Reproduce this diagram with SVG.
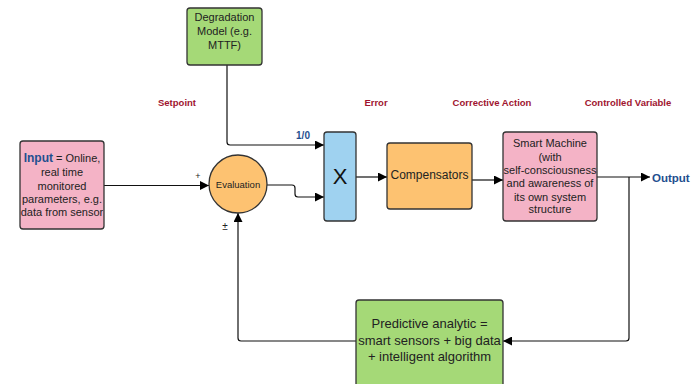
<svg xmlns="http://www.w3.org/2000/svg" width="697" height="384" viewBox="0 0 697 384">
<defs>
<marker id="arr" viewBox="0 0 10 10" refX="10" refY="5" markerWidth="9" markerHeight="9" markerUnits="userSpaceOnUse" orient="auto"><path d="M0,0 L10,5 L0,10 z" fill="#000"/></marker>
<style>
.box{stroke:#333;stroke-width:1.3}
.t{font-family:"Liberation Sans",Arial,sans-serif;font-size:11px;fill:#222;text-anchor:middle}
.lab{font-family:"Liberation Sans",Arial,sans-serif;font-size:9.5px;font-weight:bold;fill:#a01530;text-anchor:middle}
.blue{fill:#1f4f8f;font-weight:bold}
.c{fill:none;stroke:#111;stroke-width:1.2;marker-end:url(#arr)}
</style>
</defs>
<rect width="697" height="384" fill="#fff"/>
<g id="labels">
<text class="lab" x="177" y="106">Setpoint</text>
<text class="lab" x="376" y="106">Error</text>
<text class="lab" x="492" y="106">Corrective Action</text>
<text class="lab" x="628" y="106">Controlled Variable</text>
</g>
<g id="connectors">
<path class="c" d="M104,185.5 H209"/>
<path class="c" d="M267,185 H292 Q295,185 295,188 V194 Q295,197 298,197 H324"/>
<path class="c" d="M227,65 V142 Q227,145 230,145 H324"/>
<path class="c" d="M356,177 H387"/>
<path class="c" d="M472,180 H503"/>
<path class="c" d="M597,177 H650"/>
<path class="c" d="M629,177 V338 Q629,341 626,341 H503"/>
<path class="c" d="M356,341 H241 Q238,341 238,338 V213"/>
<text class="t" x="198" y="179" style="font-size:9px">+</text>
<text class="t" x="225" y="230" style="font-size:10px">±</text>
<text class="t blue" x="303" y="139" style="font-size:10px">1/0</text>
<text class="t blue" x="652" y="182" style="font-size:11.5px;text-anchor:start">Output</text>
</g>
<g id="input">
<rect class="box" x="20" y="141" width="84" height="88" rx="3" fill="#f4b3c6"/>
<text class="t" x="62" y="162"><tspan class="blue" style="font-size:12px">Input</tspan> = Online,</text>
<text class="t" x="62" y="176">real time</text>
<text class="t" x="62" y="190">monitored</text>
<text class="t" x="62" y="203">parameters, e.g.</text>
<text class="t" x="62" y="216">data from sensor</text>
</g>
<g id="evaluation">
<circle class="box" cx="238" cy="184" r="29" fill="#fdc271"/>
<text class="t" x="238" y="188" style="font-size:9.5px">Evaluation</text>
</g>
<g id="degradation">
<rect class="box" x="187" y="8" width="75" height="57" rx="3" fill="#a5d977"/>
<text class="t" x="224.5" y="21">Degradation</text>
<text class="t" x="224.5" y="35">Model (e.g.</text>
<text class="t" x="224.5" y="49">MTTF)</text>
</g>
<g id="multiplier">
<rect class="box" x="324" y="132" width="32" height="89" rx="3" fill="#9fd2f0"/>
<text class="t" x="340" y="184" style="font-size:22px;fill:#111">X</text>
</g>
<g id="compensators">
<rect class="box" x="387" y="143" width="85" height="66" rx="3" fill="#fdc271"/>
<text class="t" x="429.5" y="179" style="font-size:12px">Compensators</text>
</g>
<g id="machine">
<rect class="box" x="503" y="132" width="94" height="89" rx="3" fill="#f4b3c6"/>
<text class="t" x="550" y="147">Smart Machine</text>
<text class="t" x="550" y="161">(with</text>
<text class="t" x="550" y="174">self-consciousness</text>
<text class="t" x="550" y="187">and awareness of</text>
<text class="t" x="550" y="201">its own system</text>
<text class="t" x="550" y="213">structure</text>
</g>
<g id="predictive">
<rect class="box" x="356" y="300" width="147" height="95" rx="3" fill="#a5d977"/>
<text class="t" x="429.5" y="328" style="font-size:13px">Predictive analytic =</text>
<text class="t" x="429.5" y="345" style="font-size:13px">smart sensors + big data</text>
<text class="t" x="429.5" y="361" style="font-size:13px">+ intelligent algorithm</text>
</g>
</svg>
